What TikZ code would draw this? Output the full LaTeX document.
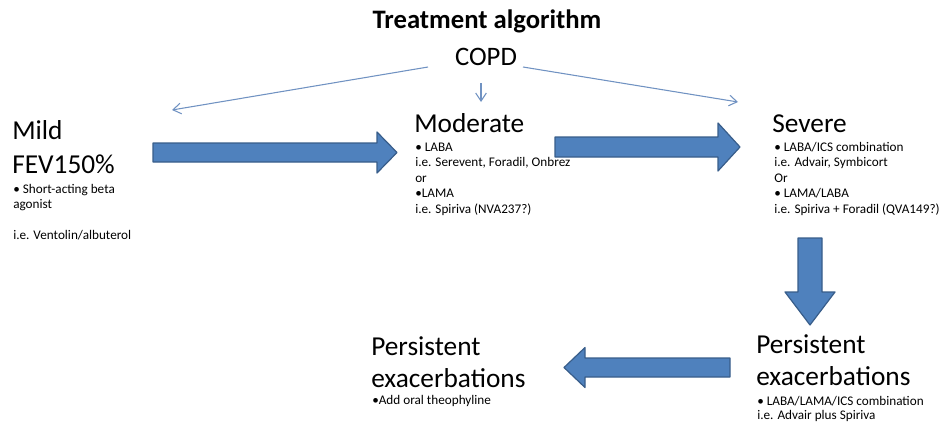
\documentclass[tikz,border=0pt]{standalone}
\usepackage{fontspec}
\setmainfont{Carlito}
\usetikzlibrary{arrows.meta}
\definecolor{barfill}{RGB}{79,129,189}
\definecolor{baredge}{RGB}{56,93,138}
\definecolor{thinblue}{RGB}{112,146,194}
% fat block arrow: tail, angle, length, half shaft, half head, head length
\newcommand{\fatarrow}[6]{%
  \begin{scope}[shift={(#1)},rotate=#2]
    \draw[fat] (0,-#4) -- ({#3-#6},-#4) -- ({#3-#6},-#5) -- (#3,0)
      -- ({#3-#6},#5) -- ({#3-#6},#4) -- (0,#4) -- cycle;
  \end{scope}
}

\begin{document}
\begin{tikzpicture}[x=0.75pt, y=-0.75pt, line join=round, >=Latex]
\tikzset{
  fat/.style={fill=barfill, draw=baredge, line width=0.9pt},
  thinarrow/.style={draw=thinblue, line width=0.8pt, -{Straight Barb[length=6pt,width=8pt]}},
  stage/.style={anchor=base west, inner sep=0, align=left, font=\fontsize{20.5}{25}\selectfont},
  notes/.style={anchor=base west, inner sep=0, align=left, font=\fontsize{9.9}{11.6}\selectfont}
}
\useasboundingbox (0,0) rectangle (945,426);

% heading
\node[anchor=base, inner sep=0, font=\fontsize{20}{24}\selectfont\bfseries] (title) at (487,28) {Treatment algorithm};
\node[anchor=base, inner sep=0, font=\fontsize{20}{24}\selectfont] (copd) at (486,65) {COPD};

% stages (base = last line)
\node[stage] (mild) at (12,173) {Mild\\FEV150\%};
\node[stage] (moderate) at (414,132) {Moderate};
\node[stage] (severe) at (772,132) {Severe};
\node[stage, font=\fontsize{20.5}{23.3}\selectfont] (persistL) at (371,387) {Persistent\\exacerbations};
\node[stage, font=\fontsize{20.5}{23.3}\selectfont] (persistR) at (756,385) {Persistent\\exacerbations};

% treatments
\node[notes] (mildtx) at (13,239.5) {• Short-acting beta\\agonist\\[11.6pt]i.e. Ventolin/albuterol};
\node[notes] (moderatetx) at (415,213) {• LABA\\i.e. Serevent, Foradil, Onbrez\\or\\•LAMA\\i.e. Spiriva (NVA237?)};
\node[notes] (severetx) at (774,213) {• LABA/ICS combination\\i.e. Advair, Symbicort\\Or\\• LAMA/LABA\\i.e. Spiriva + Foradil (QVA149?)};
\node[notes] (persistLtx) at (372,404) {•Add oral theophyline};
\node[notes, font=\fontsize{9.9}{10}\selectfont] (persistRtx) at (757,419) {• LABA/LAMA/ICS combination\\i.e. Advair plus Spiriva};

% thin arrows out of COPD
\coordinate (c1) at (428,67);
\coordinate (c2) at (481,83);
\coordinate (c3) at (523,67);
\coordinate (e1) at (172,110);
\coordinate (e2) at (481,102);
\coordinate (e3) at (738,102);
\draw[thinarrow] (c1) -- (e1);
\draw[thinarrow] (c2) -- (e2);
\draw[thinarrow] (c3) -- (e3);

% block arrows between stages
\coordinate (t1) at (153,152.5);
\coordinate (t2) at (555,147);
\coordinate (t3) at (810,238);
\coordinate (t4) at (730,367.5);
\fatarrow{t1}{0}{244}{9.5}{20.5}{20}
\fatarrow{t2}{0}{185}{10}{24}{22}
\fatarrow{t3}{-90}{87}{12}{25}{33}
\fatarrow{t4}{180}{166}{9.5}{20}{21}
\end{tikzpicture}
\end{document}
